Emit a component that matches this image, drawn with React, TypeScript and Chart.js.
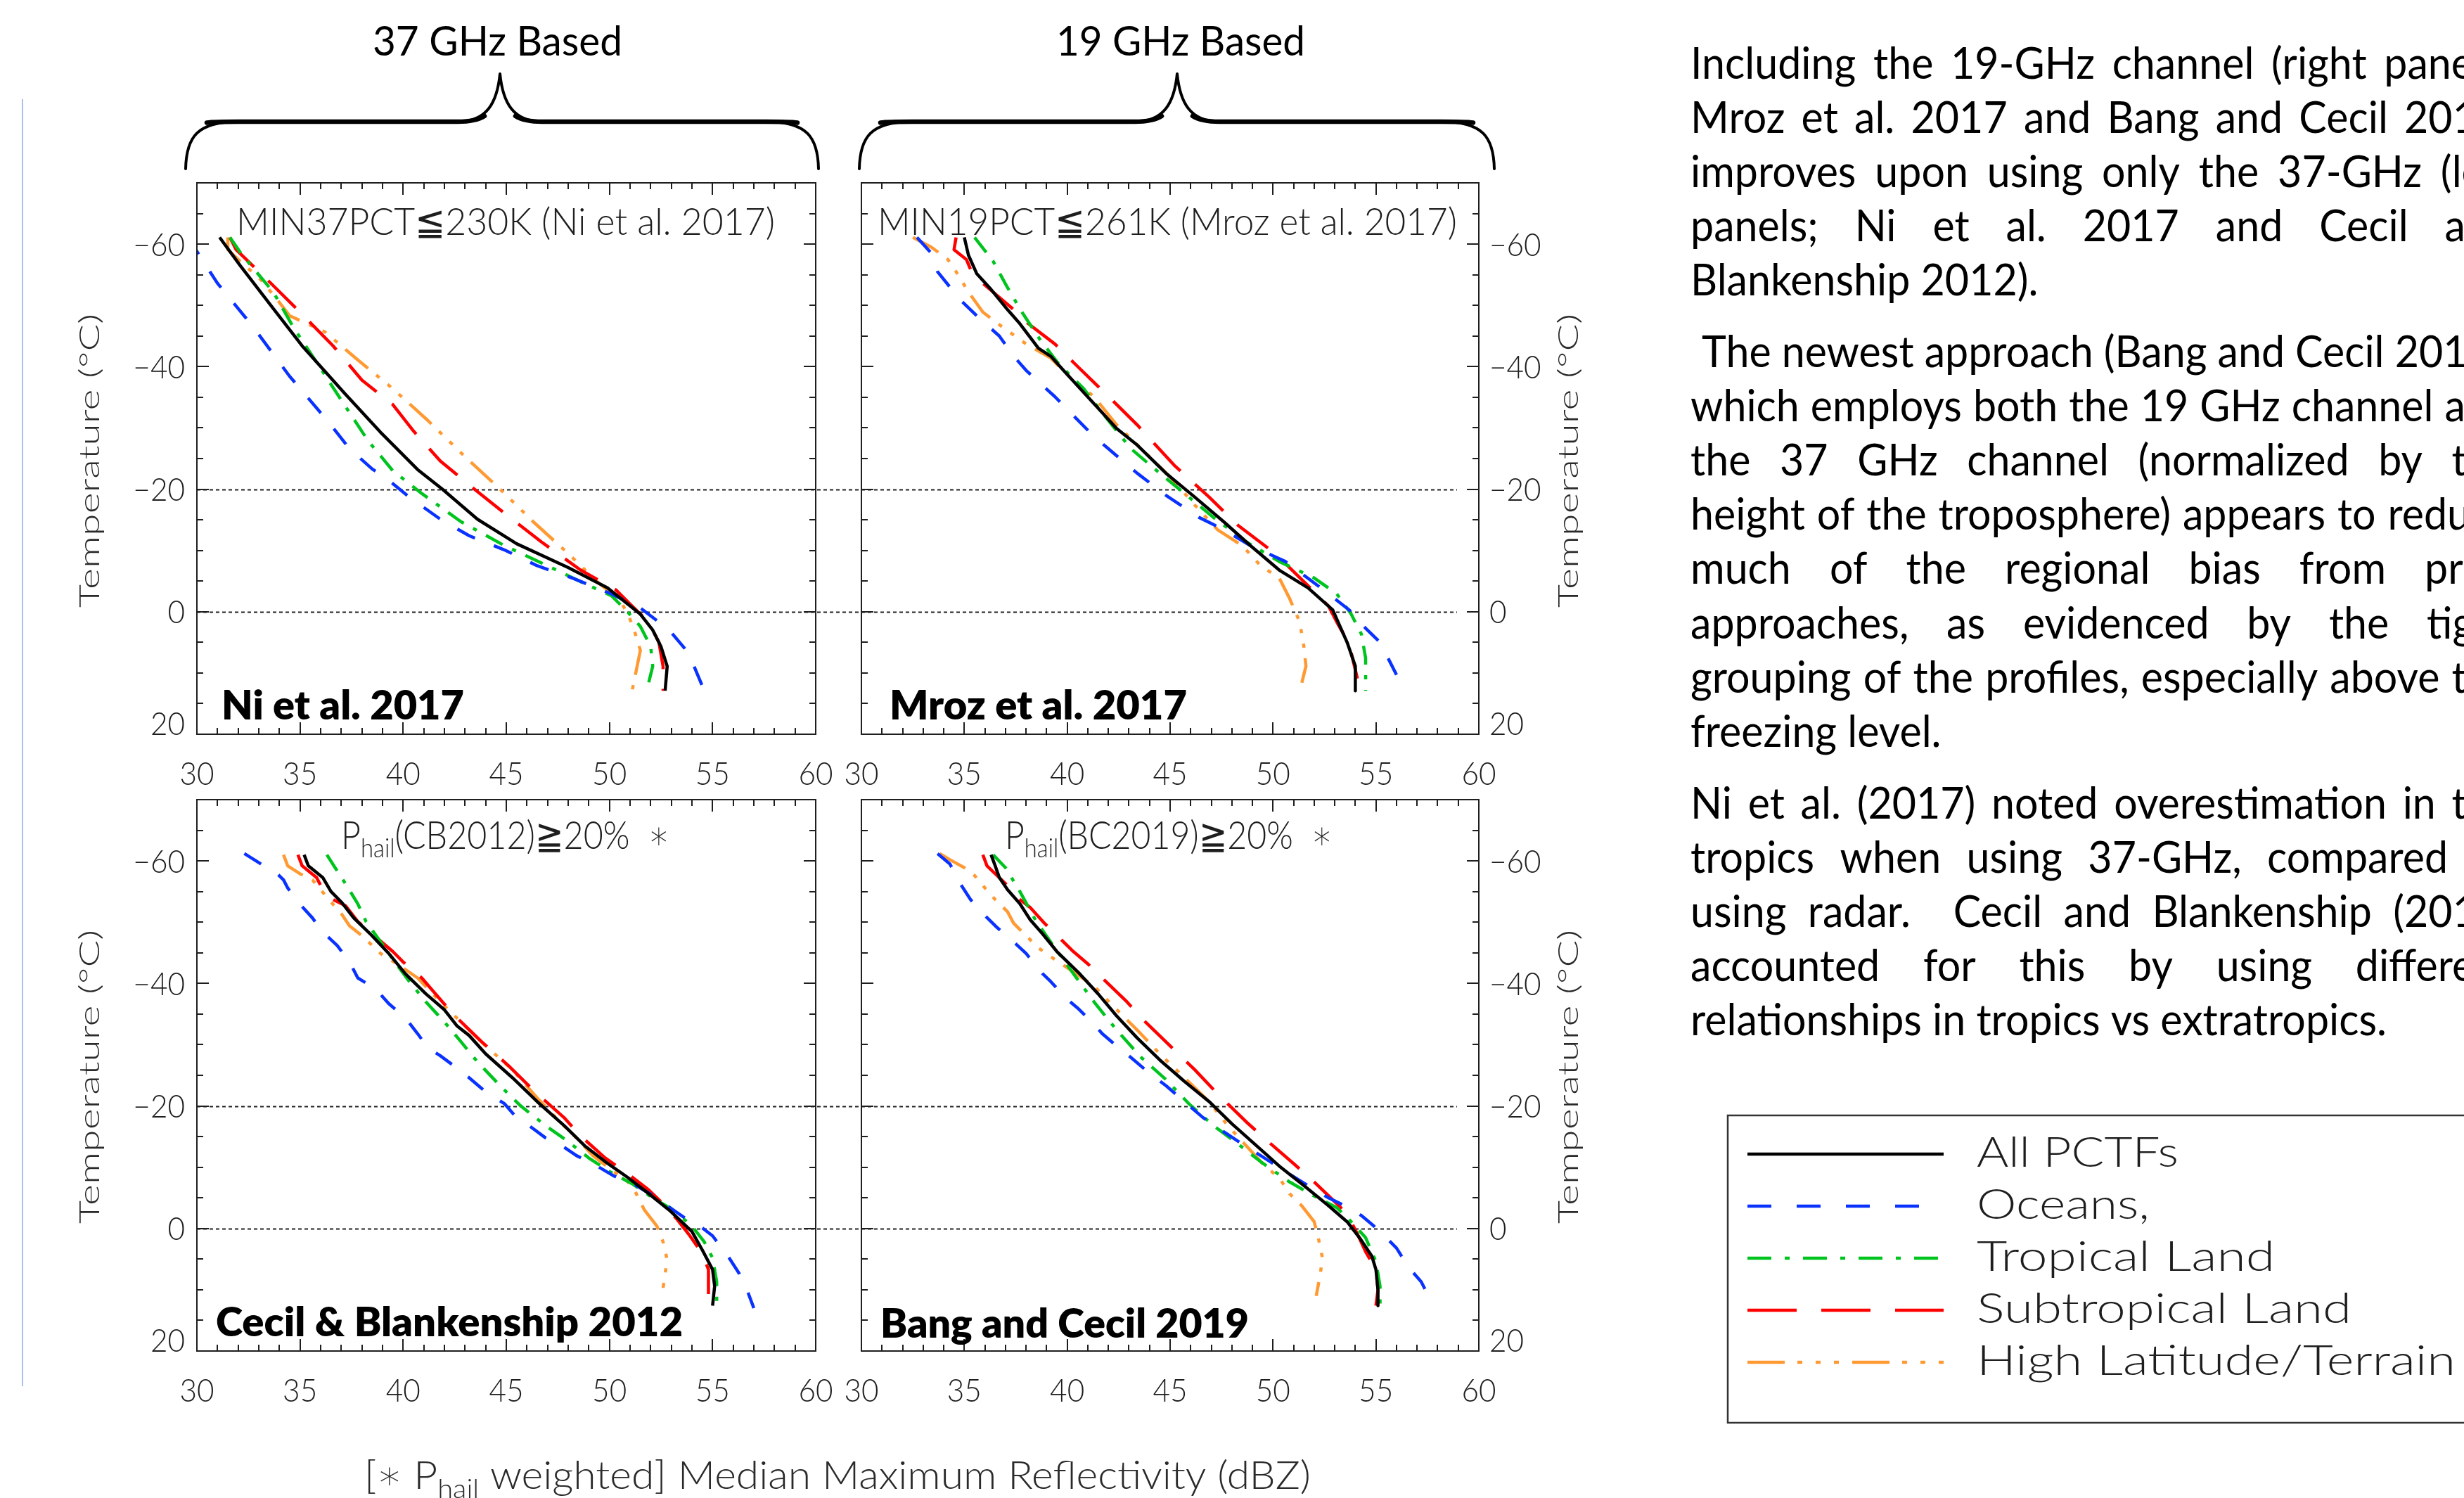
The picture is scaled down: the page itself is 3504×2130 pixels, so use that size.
import React, { useEffect, useRef } from 'react';
import { Chart, registerables } from 'chart.js';

Chart.register(...registerables);

type Pt = [number, number]; // [median max reflectivity (dBZ), temperature (°C)]

// ---------------- Ni et al. 2017 (MIN37PCT <= 230K) ----------------
const niAll: Pt[] = [[31.1,-61.1],[32.1,-56.5],[33.7,-49.5],[35.1,-43.4],[37.2,-35.5],[38.9,-29.3],[40.7,-23.2],[41.9,-20.0],[43.6,-15.1],[45.5,-11.1],[48.0,-7.2],[49.9,-3.9],[51.5,0.4],[52.1,3.0],[52.5,5.7],[52.8,8.9],[52.7,12.9]];
const niOceans: Pt[] = [[29.6,-61.1],[30.0,-58.8],[31.0,-53.6],[32.7,-46.6],[34.5,-38.4],[36.4,-30.9],[37.4,-26.6],[38.5,-23.3],[39.1,-22.0],[40.3,-18.7],[41.8,-15.1],[43.2,-12.4],[44.9,-10.1],[46.5,-7.5],[48.2,-5.5],[50.1,-2.9],[51.5,-0.6],[52.9,3.0],[53.8,6.6],[54.1,8.9],[54.6,12.9]];
const niTropical: Pt[] = [[31.6,-61.1],[32.2,-58.2],[33.7,-52.2],[34.7,-46.3],[36.0,-39.7],[37.2,-33.5],[38.3,-27.9],[39.5,-23.0],[40.9,-19.3],[42.8,-14.7],[44.9,-10.8],[47.0,-7.5],[48.6,-4.9],[50.1,-2.6],[50.9,0.1],[51.5,2.4],[52.0,5.7],[52.1,8.9],[51.9,11.6]];
const niSubtropical: Pt[] = [[31.6,-61.1],[31.9,-59.1],[32.7,-56.5],[33.5,-53.9],[34.7,-49.9],[36.6,-43.4],[38.0,-37.8],[39.5,-33.8],[40.5,-29.5],[41.8,-24.6],[43.2,-20.7],[44.9,-16.1],[46.7,-11.4],[48.6,-6.8],[50.3,-3.6],[51.1,-0.9],[51.9,1.7],[52.4,5.0],[52.6,8.9],[52.6,12.9]];
const niHighLat: Pt[] = [[31.5,-61.1],[31.5,-59.1],[32.0,-57.5],[33.1,-54.2],[33.9,-50.9],[34.5,-48.3],[36.2,-45.7],[37.8,-41.1],[39.5,-36.4],[41.2,-31.2],[43.0,-25.3],[44.7,-20.0],[46.3,-14.7],[48.0,-9.5],[49.4,-4.9],[50.5,-1.9],[50.9,0.4],[51.2,3.0],[51.5,6.3],[51.3,9.6],[51.1,12.9]];

// ---------------- Mroz et al. 2017 (MIN19PCT <= 261K) ----------------
const mrozAll: Pt[] = [[35.0,-61.1],[35.2,-58.2],[35.6,-55.2],[36.3,-52.6],[37.1,-49.3],[37.7,-47.0],[38.6,-43.0],[39.2,-41.7],[39.9,-39.1],[40.8,-35.8],[41.7,-32.5],[42.4,-29.9],[43.4,-27.2],[44.8,-22.6],[46.2,-18.7],[47.6,-14.7],[48.9,-10.8],[50.3,-6.8],[51.7,-3.9],[52.9,-0.3],[53.6,5.0],[54.0,8.9],[54.0,12.9]];
const mrozOceans: Pt[] = [[32.7,-61.1],[33.4,-58.5],[33.7,-55.5],[34.8,-50.9],[35.7,-48.0],[36.7,-45.0],[37.4,-41.7],[38.0,-39.4],[39.4,-35.1],[41.3,-28.6],[42.0,-26.6],[43.4,-22.6],[44.8,-19.0],[46.4,-15.4],[47.6,-13.4],[48.9,-10.8],[50.6,-8.2],[52.2,-4.2],[53.7,-0.3],[54.5,2.7],[55.2,5.0],[56.0,10.3]];
const mrozTropical: Pt[] = [[35.5,-61.1],[36.4,-57.2],[37.1,-52.9],[37.8,-48.9],[38.7,-44.3],[39.6,-40.4],[40.8,-36.4],[42.0,-31.2],[43.1,-26.6],[44.5,-22.6],[45.7,-19.3],[47.1,-15.4],[48.7,-11.4],[50.3,-8.2],[52.0,-5.5],[53.1,-2.9],[53.8,0.4],[54.3,3.7],[54.5,7.6],[54.5,12.9]];
const mrozSubtropical: Pt[] = [[34.6,-61.1],[34.5,-59.1],[35.1,-57.5],[35.3,-55.9],[35.9,-53.6],[37.3,-49.6],[38.0,-47.3],[39.4,-43.7],[40.3,-40.7],[41.4,-37.1],[42.2,-34.5],[43.4,-30.5],[45.2,-23.9],[46.9,-18.7],[48.3,-14.1],[50.1,-9.5],[51.5,-4.9],[52.7,-0.9],[53.1,1.7],[53.7,5.3],[54.1,10.9]];
const mrozHighLat: Pt[] = [[32.5,-61.1],[33.4,-59.5],[34.2,-57.5],[34.6,-55.5],[35.2,-52.2],[35.9,-48.9],[36.8,-46.6],[38.0,-43.7],[39.2,-41.4],[40.1,-38.4],[41.3,-35.1],[42.4,-30.5],[43.6,-26.6],[45.0,-22.0],[46.2,-17.4],[47.3,-13.4],[48.5,-10.8],[49.4,-7.5],[50.3,-5.5],[50.8,-2.2],[51.3,1.7],[51.5,5.7],[51.6,8.9],[51.4,11.6]];

// ---------------- Cecil & Blankenship 2012 ----------------
const cbAll: Pt[] = [[35.2,-61.0],[35.4,-59.2],[36.1,-57.3],[36.5,-55.0],[37.0,-53.3],[37.6,-50.7],[38.4,-48.1],[39.3,-44.9],[40.1,-41.6],[41.1,-38.3],[42.0,-35.7],[42.6,-33.1],[43.2,-31.5],[44.0,-28.5],[45.3,-24.6],[46.5,-20.7],[47.8,-16.8],[48.8,-13.5],[49.8,-10.9],[50.9,-8.3],[51.9,-5.7],[52.9,-3.0],[54.0,0.5],[54.5,3.5],[55.0,6.7],[55.1,9.4],[55.0,12.6]];
const cbOceans: Pt[] = [[32.3,-61.2],[33.1,-59.5],[33.9,-57.9],[34.2,-56.9],[34.4,-55.6],[34.9,-53.3],[35.6,-50.7],[36.1,-48.4],[36.8,-46.2],[37.4,-43.5],[37.8,-40.9],[38.7,-39.0],[39.3,-36.7],[40.1,-34.4],[40.7,-31.8],[41.2,-29.5],[41.8,-28.2],[42.6,-26.2],[43.2,-24.6],[44.0,-22.3],[44.9,-20.4],[45.5,-18.1],[46.1,-16.8],[46.9,-14.8],[47.7,-13.5],[48.4,-11.9],[49.2,-10.6],[50.2,-8.6],[51.3,-7.0],[52.3,-5.0],[53.1,-3.0],[53.8,-1.4],[54.5,-0.1],[55.0,1.2],[55.8,4.8],[56.3,7.4],[56.7,10.3],[57.0,13.0]];
const cbTropical: Pt[] = [[36.3,-61.0],[36.7,-58.9],[37.2,-56.3],[37.8,-53.0],[38.2,-50.1],[38.9,-46.8],[39.6,-43.5],[40.3,-40.3],[41.1,-37.0],[42.0,-33.7],[42.8,-30.5],[43.6,-27.2],[44.7,-23.3],[45.7,-20.0],[46.9,-16.8],[48.0,-14.2],[49.0,-11.5],[50.0,-9.3],[51.1,-7.3],[52.1,-5.0],[53.1,-3.0],[54.0,-0.4],[54.6,2.2],[55.0,4.8],[55.2,8.7],[55.2,13.0]];
const cbSubtropical: Pt[] = [[34.9,-61.0],[35.1,-59.2],[35.8,-57.3],[36.0,-56.0],[36.6,-53.7],[37.2,-52.7],[37.8,-50.1],[38.7,-47.5],[39.5,-45.2],[40.0,-43.5],[40.9,-40.9],[41.9,-37.0],[42.6,-34.4],[43.8,-30.5],[45.1,-26.6],[46.3,-22.6],[47.8,-18.1],[48.6,-15.1],[49.8,-11.5],[50.9,-8.9],[51.9,-6.3],[52.7,-3.7],[53.3,-1.4],[53.9,1.2],[54.5,4.1],[54.8,6.7],[54.8,10.7]];
const cbHighLat: Pt[] = [[34.2,-61.0],[34.4,-59.2],[35.0,-57.9],[35.6,-56.9],[36.0,-55.3],[36.5,-53.3],[37.0,-51.4],[37.4,-49.4],[38.0,-47.8],[38.9,-44.9],[39.7,-43.2],[40.7,-40.9],[41.8,-37.0],[42.8,-33.7],[44.0,-29.8],[45.3,-25.9],[46.5,-21.3],[47.6,-17.4],[48.4,-14.8],[49.2,-11.9],[50.2,-9.3],[50.9,-7.6],[51.3,-5.7],[51.7,-3.0],[52.3,-0.4],[52.6,2.2],[52.8,5.1],[52.7,7.4],[52.6,9.7]];

// ---------------- Bang and Cecil 2019 ----------------
const bcAll: Pt[] = [[36.3,-61.0],[36.5,-59.2],[36.7,-57.3],[37.1,-55.3],[37.7,-53.0],[38.2,-50.4],[38.8,-48.1],[39.5,-45.2],[40.6,-41.6],[41.5,-38.3],[42.4,-34.7],[43.4,-31.1],[44.5,-27.5],[45.7,-24.0],[46.9,-20.7],[48.0,-17.1],[49.2,-13.5],[50.3,-10.2],[51.5,-7.0],[52.7,-3.7],[53.6,-1.1],[54.2,1.5],[54.8,4.5],[55.0,6.7],[55.1,10.0],[55.1,12.6]];
const bcOceans: Pt[] = [[33.7,-61.2],[34.3,-59.5],[34.8,-56.3],[35.3,-53.7],[35.9,-51.4],[36.6,-49.1],[37.3,-47.1],[38.0,-44.9],[38.8,-41.6],[39.2,-40.3],[39.9,-37.7],[40.5,-36.0],[41.2,-33.7],[41.7,-31.8],[42.4,-29.8],[43.1,-27.9],[43.8,-25.9],[44.8,-23.3],[45.7,-20.7],[46.6,-18.1],[47.6,-15.8],[48.5,-13.8],[49.4,-11.9],[50.6,-9.3],[51.7,-7.0],[52.7,-5.0],[53.5,-3.7],[54.3,-2.1],[54.9,-0.4],[55.5,1.5],[56.0,3.2],[56.6,6.4],[57.2,8.7],[57.8,12.6]];
const bcTropical: Pt[] = [[36.4,-61.0],[37.0,-58.9],[37.7,-55.0],[38.5,-50.1],[39.4,-45.8],[40.3,-41.6],[41.3,-37.0],[42.4,-32.4],[43.6,-27.9],[44.8,-24.3],[45.9,-20.4],[47.1,-16.8],[48.3,-13.8],[49.4,-10.9],[50.8,-7.6],[52.0,-5.3],[53.1,-3.4],[53.8,-1.1],[54.5,1.5],[55.0,5.4],[55.2,9.4],[55.2,13.0]];
const bcSubtropical: Pt[] = [[35.9,-61.0],[36.1,-59.2],[36.6,-57.6],[37.0,-56.3],[37.7,-53.7],[38.2,-52.4],[38.9,-49.8],[39.6,-47.5],[40.3,-45.2],[41.0,-43.2],[41.7,-40.9],[42.9,-37.0],[43.8,-33.7],[45.0,-29.8],[46.2,-25.9],[47.3,-22.0],[48.7,-17.4],[49.9,-13.8],[51.0,-10.6],[52.0,-7.6],[52.8,-5.0],[53.6,-2.4],[54.1,0.9],[54.5,3.8],[55.0,6.7],[55.1,10.0],[55.0,12.6]];
const bcHighLat: Pt[] = [[33.8,-61.2],[34.3,-60.2],[35.0,-58.9],[35.5,-57.6],[36.0,-55.6],[36.5,-53.7],[37.1,-51.7],[37.4,-49.8],[38.0,-47.8],[38.6,-45.8],[39.4,-43.9],[40.3,-41.9],[41.3,-39.6],[42.2,-36.4],[43.4,-32.4],[44.5,-28.5],[45.7,-24.6],[46.9,-20.7],[47.8,-16.8],[48.7,-13.5],[49.6,-10.2],[50.3,-8.3],[50.8,-5.7],[51.4,-3.7],[52.0,-1.1],[52.2,1.5],[52.4,4.8],[52.3,7.4],[52.1,11.0]];

// ---------------- labels / ticks ----------------
const SERIES_LABELS = ['All PCTFs', 'Oceans,', 'Tropical Land', 'Subtropical Land', 'High Latitude/Terrain'];
const SERIES_COLORS = ['#000000', '#0a32ff', '#00c41e', '#ff0000', '#ff9a33'];
const X_MIN = 30, X_MAX = 60, Y_MIN = -70, Y_MAX = 20;
const X_TICKS = [30, 35, 40, 45, 50, 55, 60];
const X_MINOR_STEP = 1;
const Y_TICKS = [-60, -40, -20, 0, 20];
const Y_MINOR_STEP = 5;
const REF_TEMPS = [-20, 0];
const HEADERS = ['37 GHz Based', '19 GHz Based'];
const Y_TITLE = 'Temperature (°C)';
const X_TITLE_PRE = '[∗ P';
const X_TITLE_SUB = 'hail';
const X_TITLE_POST = ' weighted] Median Maximum Reflectivity (dBZ)';

const PARA_1 = [
  'Including the 19-GHz channel (right panels;',
  'Mroz et al. 2017 and Bang and Cecil 2019)',
  'improves upon using only the 37-GHz (left',
  'panels; Ni et al. 2017 and Cecil and',
  'Blankenship 2012).',
];
const PARA_2 = [
  'The newest approach (Bang and Cecil 2019),',
  'which employs both the 19 GHz channel and',
  'the 37 GHz channel (normalized by the',
  'height of the troposphere) appears to reduce',
  'much of the regional bias from prior',
  'approaches, as evidenced by the tight',
  'grouping of the profiles, especially above the',
  'freezing level.',
];
const PARA_3 = [
  'Ni et al. (2017) noted overestimation in the',
  'tropics when using 37-GHz, compared to',
  'using radar.  Cecil and Blankenship (2012)',
  'accounted for this by using different',
  'relationships in tropics vs extratropics.',
];

// ---------------- styles ----------------
const FONT = 'Lato, "Open Sans", "DejaVu Sans", sans-serif';
const PANEL_DASH: number[][] = [[], [28, 29], [27, 15, 6, 15], [55, 28], [42, 15, 6, 15, 6, 15, 6, 15]];
const LEGEND_DASH: number[][] = [[], [34, 36], [34, 19, 7, 19], [70, 35], [53, 18, 7, 19, 7, 19, 7, 19]];
const LINE_W = 4.5;
const INK = '#1e1e1e';
const PAD = { left: 200, right: 200, top: 80, bottom: 110 };

interface Seg { t: string; size: number; dy?: number }

function segFont(weight: number, size: number) {
  return `${weight} ${size}px ${FONT}`;
}

// draws a run of text segments, horizontally fitted to [x0, x1] if x1 given, else scaled by sx with alignment
function drawSegs(ctx: CanvasRenderingContext2D, segs: Seg[], x0: number, x1: number | null, base: number,
  weight: number, color: string, sx = 1, align: 'left' | 'center' | 'right' = 'left') {
  ctx.save();
  const widths = segs.map(s => { ctx.font = segFont(weight, s.size); return ctx.measureText(s.t).width; });
  const total = widths.reduce((a, b) => a + b, 0);
  let scale = sx;
  let cx = x0;
  if (x1 != null) scale = (x1 - x0) / total;
  else if (align === 'center') cx = x0 - total * scale / 2;
  else if (align === 'right') cx = x0 - total * scale;
  ctx.fillStyle = color;
  ctx.textBaseline = 'alphabetic';
  ctx.textAlign = 'left';
  segs.forEach((s, i) => {
    ctx.font = segFont(weight, s.size);
    ctx.save();
    ctx.translate(cx, base + (s.dy || 0));
    ctx.scale(scale, 1);
    ctx.fillText(s.t, 0, 0);
    ctx.restore();
    cx += widths[i] * scale;
  });
  ctx.restore();
}

interface PanelDef {
  id: string;
  frame: { l: number; t: number; r: number; b: number };
  side: 'left' | 'right';
  titleSegs: Seg[];
  titleX: [number, number];
  titleBase: number;
  name: string;
  nameX: [number, number];
  nameBase: number;
  refExt: [number, number];
  series: Pt[][];
}

const PANELS: PanelDef[] = [
  {
    id: 'ni', frame: { l: 280, t: 260, r: 1160, b: 1044 }, side: 'left',
    titleSegs: [{ t: 'MIN37PCT≦230K (Ni et al. 2017)', size: 54 }], titleX: [336, 1102], titleBase: 334,
    name: 'Ni et al. 2017', nameX: [315, 660], nameBase: 1023, refExt: [0, 65],
    series: [niAll, niOceans, niTropical, niSubtropical, niHighLat],
  },
  {
    id: 'mroz', frame: { l: 1225, t: 260, r: 2103, b: 1044 }, side: 'right',
    titleSegs: [{ t: 'MIN19PCT≦261K (Mroz et al. 2017)', size: 54 }], titleX: [1248, 2072], titleBase: 334,
    name: 'Mroz et al. 2017', nameX: [1265, 1688], nameBase: 1023, refExt: [0, -31],
    series: [mrozAll, mrozOceans, mrozTropical, mrozSubtropical, mrozHighLat],
  },
  {
    id: 'cb', frame: { l: 280, t: 1137, r: 1160, b: 1921 }, side: 'left',
    titleSegs: [{ t: 'P', size: 56 }, { t: 'hail', size: 38, dy: 12 }, { t: '(CB2012)≧20%  ∗', size: 56 }],
    titleX: [485, 952], titleBase: 1207,
    name: 'Cecil & Blankenship 2012', nameX: [307, 971], nameBase: 1900, refExt: [0, 65],
    series: [cbAll, cbOceans, cbTropical, cbSubtropical, cbHighLat],
  },
  {
    id: 'bc', frame: { l: 1225, t: 1137, r: 2103, b: 1921 }, side: 'right',
    titleSegs: [{ t: 'P', size: 56 }, { t: 'hail', size: 38, dy: 12 }, { t: '(BC2019)≧20%  ∗', size: 56 }],
    titleX: [1429, 1895], titleBase: 1207,
    name: 'Bang and Cecil 2019', nameX: [1252, 1776], nameBase: 1902, refExt: [0, -31],
    series: [bcAll, bcOceans, bcTropical, bcSubtropical, bcHighLat],
  },
];

function tickText(v: number) {
  return v < 0 ? '−' + Math.abs(v) : String(v);
}

function makePlugin(p: PanelDef) {
  const offX = p.frame.l - PAD.left;
  const offY = p.frame.t - PAD.top;
  return {
    id: 'panelDecor_' + p.id,
    beforeDatasetsDraw(chart: any) {
      const { ctx, chartArea: a, scales } = chart;
      const y = scales.y;
      ctx.save();
      ctx.strokeStyle = '#222';
      ctx.lineWidth = 1.8;
      ctx.setLineDash([5, 4]);
      ctx.beginPath();
      REF_TEMPS.forEach(tv => {
        const py = Math.round(y.getPixelForValue(tv)) + 0.5;
        ctx.moveTo(a.left + p.refExt[0], py);
        ctx.lineTo(a.right + p.refExt[1], py);
      });
      ctx.stroke();
      ctx.restore();
    },
    afterDatasetsDraw(chart: any) {
      const { ctx, chartArea: a, scales } = chart;
      const x = scales.x, y = scales.y;
      ctx.save();
      ctx.setLineDash([]);
      ctx.strokeStyle = INK;
      ctx.lineWidth = 2;
      ctx.strokeRect(a.left, a.top, a.right - a.left, a.bottom - a.top);
      ctx.beginPath();
      for (let v = X_MIN; v <= X_MAX; v += X_MINOR_STEP) {
        const px = Math.round(x.getPixelForValue(v));
        const len = X_TICKS.includes(v) ? 17 : 9;
        ctx.moveTo(px, a.bottom); ctx.lineTo(px, a.bottom - len);
        ctx.moveTo(px, a.top); ctx.lineTo(px, a.top + len);
      }
      for (let v = Y_MIN; v <= Y_MAX; v += Y_MINOR_STEP) {
        const py = Math.round(y.getPixelForValue(v));
        const len = Y_TICKS.includes(v) ? 17 : 9;
        ctx.moveTo(a.left, py); ctx.lineTo(a.left + len, py);
        ctx.moveTo(a.right, py); ctx.lineTo(a.right - len, py);
      }
      ctx.stroke();
      ctx.restore();

      // tick labels
      X_TICKS.forEach(v => {
        drawSegs(ctx, [{ t: String(v), size: 46 }], x.getPixelForValue(v), null, a.bottom + 72, 300, INK, 0.92, 'center');
      });
      Y_TICKS.forEach(v => {
        const py = y.getPixelForValue(v);
        let base = py + 16.5;
        if (base > a.bottom + 1) base = a.bottom + 1;
        if (p.side === 'left') drawSegs(ctx, [{ t: tickText(v), size: 46 }], a.left - 17, null, base, 300, INK, 0.92, 'right');
        else drawSegs(ctx, [{ t: tickText(v), size: 46 }], a.right + 15, null, base, 300, INK, 0.92, 'left');
      });

      // panel title and name (given in page coordinates)
      ctx.save();
      ctx.translate(-offX, -offY);
      drawSegs(ctx, p.titleSegs, p.titleX[0], p.titleX[1], p.titleBase, 300, INK);
      drawSegs(ctx, [{ t: p.name, size: 57 }], p.nameX[0], p.nameX[1], p.nameBase, 800, '#000');
      ctx.restore();
    },
  };
}

function Panel({ p }: { p: PanelDef }) {
  const ref = useRef<HTMLCanvasElement>(null);
  const { l, t, r, b } = p.frame;
  const cw = r - l + PAD.left + PAD.right;
  const ch = b - t + PAD.top + PAD.bottom;
  useEffect(() => {
    const canvas = ref.current;
    if (!canvas) return;
    const chart = new Chart(canvas, {
      type: 'line',
      data: {
        datasets: p.series.map((s, i) => ({
          label: SERIES_LABELS[i],
          data: s.map(([xv, yv]) => ({ x: xv, y: yv })),
          borderColor: SERIES_COLORS[i],
          backgroundColor: SERIES_COLORS[i],
          borderWidth: LINE_W,
          borderDash: PANEL_DASH[i],
          borderCapStyle: 'butt',
          borderJoinStyle: 'round',
          pointRadius: 0,
          pointHoverRadius: 0,
          fill: false,
          tension: 0,
        })),
      },
      options: {
        animation: false,
        responsive: false,
        maintainAspectRatio: false,
        devicePixelRatio: 1,
        events: [],
        layout: { padding: { left: PAD.left, right: PAD.right, top: PAD.top, bottom: PAD.bottom } },
        plugins: { legend: { display: false }, tooltip: { enabled: false }, title: { display: false } },
        scales: {
          x: { type: 'linear', min: X_MIN, max: X_MAX, display: false },
          y: { type: 'linear', min: Y_MIN, max: Y_MAX, reverse: true, display: false },
        },
      },
      plugins: [makePlugin(p)],
    } as any);
    return () => chart.destroy();
  }, [p]);
  return (
    <canvas
      ref={ref}
      width={cw}
      height={ch}
      style={{ position: 'absolute', left: l - PAD.left, top: t - PAD.top, width: cw, height: ch }}
    />
  );
}

function drawBrace(ctx: CanvasRenderingContext2D, x0: number, x1: number, xm: number, yT: number, yM: number, yB: number) {
  ctx.save();
  ctx.strokeStyle = '#000';
  ctx.lineCap = 'round';
  ctx.lineJoin = 'round';
  ctx.lineWidth = 4;
  ctx.beginPath();
  ctx.moveTo(x0, yB);
  ctx.bezierCurveTo(x0 + 1, yM + 22, x0 + 16, yM, x0 + 75, yM);
  ctx.lineTo(xm - 60, yM);
  ctx.bezierCurveTo(xm - 18, yM, xm - 4, yM - 28, xm, yT);
  ctx.bezierCurveTo(xm + 4, yM - 28, xm + 18, yM, xm + 60, yM);
  ctx.lineTo(x1 - 75, yM);
  ctx.bezierCurveTo(x1 - 16, yM, x1 - 1, yM + 22, x1, yB);
  ctx.stroke();
  ctx.lineWidth = 6.5;
  ctx.lineCap = 'round';
  ctx.beginPath();
  ctx.moveTo(x0 + 30, yM + 1.5);
  ctx.bezierCurveTo(x0 + 40, yM, x0 + 50, yM, x0 + 75, yM);
  ctx.lineTo(xm - 60, yM);
  ctx.bezierCurveTo(xm - 40, yM, xm - 30, yM - 3, xm - 22, yM - 8);
  ctx.moveTo(xm + 22, yM - 8);
  ctx.bezierCurveTo(xm + 30, yM - 3, xm + 40, yM, xm + 60, yM);
  ctx.lineTo(x1 - 75, yM);
  ctx.bezierCurveTo(x1 - 50, yM, x1 - 40, yM, x1 - 30, yM + 1.5);
  ctx.stroke();
  ctx.restore();
}

function drawParagraph(ctx: CanvasRenderingContext2D, lines: string[], x0: number, xR: number, base0: number,
  lh: number, font: string, sx: number, firstIndent: number) {
  ctx.save();
  ctx.font = font;
  ctx.fillStyle = '#000';
  ctx.textBaseline = 'alphabetic';
  ctx.textAlign = 'left';
  const spaceW = ctx.measureText(' ').width * sx;
  lines.forEach((line, i) => {
    const base = base0 + i * lh;
    const xs = x0 + (i === 0 ? firstIndent : 0);
    const words = line.split(' ');
    const widths = words.map(w => ctx.measureText(w).width * sx);
    const last = i === lines.length - 1;
    let gap = spaceW;
    if (!last && words.length > 1) {
      const tot = widths.reduce((a, b) => a + b, 0);
      gap = Math.max(spaceW * 0.6, (xR - xs - tot) / (words.length - 1));
    }
    let cx = xs;
    words.forEach((w, j) => {
      if (w.length) {
        ctx.save();
        ctx.translate(cx, base);
        ctx.scale(sx, 1);
        ctx.fillText(w, 0, 0);
        ctx.restore();
      }
      cx += widths[j] + gap;
    });
  });
  ctx.restore();
}

function Overlay() {
  const ref = useRef<HTMLCanvasElement>(null);
  useEffect(() => {
    const canvas = ref.current;
    if (!canvas) return;
    const ctx = canvas.getContext('2d');
    if (!ctx) return;
    ctx.clearRect(0, 0, canvas.width, canvas.height);

    // thin pale blue rule at far left
    ctx.save();
    ctx.strokeStyle = '#a7c1ea';
    ctx.lineWidth = 2;
    ctx.beginPath();
    ctx.moveTo(32, 141); ctx.lineTo(32, 1971);
    ctx.stroke();
    ctx.restore();

    // headers + braces
    drawSegs(ctx, [{ t: HEADERS[0], size: 58 }], 530, 885, 79, 400, '#000');
    drawSegs(ctx, [{ t: HEADERS[1], size: 58 }], 1502, 1856, 79, 400, '#000');
    drawBrace(ctx, 264, 1164, 711, 105, 173, 240);
    drawBrace(ctx, 1222, 2125, 1674, 105, 173, 240);

    // y-axis titles (rotated)
    const yTitles: [number, number][] = [[141, 655], [141, 1531], [2244, 655], [2244, 1531]];
    yTitles.forEach(([bx, cy]) => {
      ctx.save();
      ctx.translate(bx, cy);
      ctx.rotate(-Math.PI / 2);
      drawSegs(ctx, [{ t: Y_TITLE, size: 40 }], -209, 209, 0, 300, '#2a2a2a');
      ctx.restore();
    });

    // bottom x-axis title
    drawSegs(ctx, [{ t: X_TITLE_PRE, size: 56 }, { t: X_TITLE_SUB, size: 38, dy: 13 }, { t: X_TITLE_POST, size: 56 }],
      518, 1864, 2117, 300, '#2a2a2a');

    // paragraph text
    const pFont = `400 61px ${FONT}`;
    ctx.font = pFont;
    const sx = 990 / ctx.measureText(PARA_3[PARA_3.length - 1]).width;
    drawParagraph(ctx, PARA_1, 2404, 3572, 112, 77.1, pFont, sx, 0);
    drawParagraph(ctx, PARA_2, 2404, 3572, 522, 77.1, pFont, sx, 16);
    drawParagraph(ctx, PARA_3, 2404, 3572, 1164, 77.1, pFont, sx, 0);

    // legend
    ctx.save();
    ctx.strokeStyle = '#333';
    ctx.lineWidth = 2.5;
    ctx.strokeRect(2457, 1586, 1200, 437);
    ctx.restore();
    const legW = [287, 246, 424, 533, 681];
    SERIES_LABELS.forEach((lab, i) => {
      const ly = 1641 + i * 74;
      ctx.save();
      ctx.strokeStyle = SERIES_COLORS[i];
      ctx.lineWidth = LINE_W;
      ctx.lineCap = 'butt';
      ctx.setLineDash(LEGEND_DASH[i]);
      ctx.beginPath();
      ctx.moveTo(2485, ly); ctx.lineTo(2764, ly);
      ctx.stroke();
      ctx.restore();
      drawSegs(ctx, [{ t: lab, size: 60 }], 2811, 2811 + legW[i], ly + 18, 300, '#1e1e1e');
    });
  }, []);
  return <canvas ref={ref} width={3504} height={2130} style={{ position: 'absolute', left: 0, top: 0, width: 3504, height: 2130 }} />;
}

export default function App() {
  return (
    <div style={{ position: 'absolute', left: 0, top: 0, width: 3504, height: 2130, overflow: 'hidden', background: '#fff' }}>
      <Overlay />
      {PANELS.map(p => <Panel key={p.id} p={p} />)}
    </div>
  );
}
